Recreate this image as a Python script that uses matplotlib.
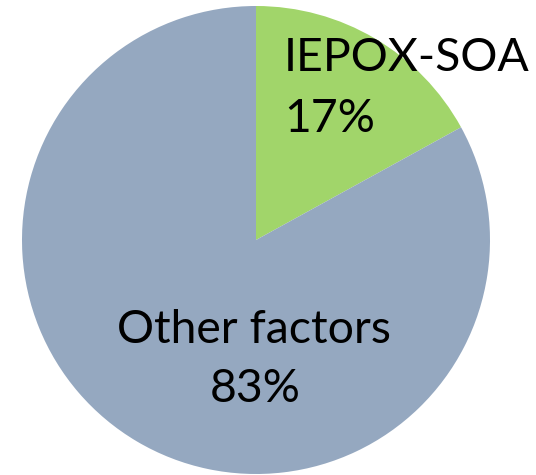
import matplotlib
matplotlib.use("Agg")
import matplotlib.pyplot as plt

labels = ["IEPOX-SOA", "Other factors"]
shares = [17, 83]
colors = ["#A1D56A", "#95A8C0"]

W, H = 536, 475
fig = plt.figure(figsize=(W / 100, H / 100), dpi=100)
ax = fig.add_axes([0, 0, 1, 1])
ax.set_xlim(0, W)
ax.set_ylim(0, H)
ax.set_aspect("equal")

ax.pie(shares, colors=colors, startangle=90, counterclock=False,
       center=(256, H - 240), radius=234, frame=True,
       wedgeprops=dict(linewidth=0))
ax.axis("off")

font = dict(family=["Lato", "DejaVu Sans"], fontsize=33.4, color="black",
            va="baseline")
# small slice: name and share left-aligned in the upper right
ax.text(284, H - 71, labels[0], ha="left", **font)
ax.text(284, H - 132, f"{shares[0]}%", ha="left", **font)
# big slice: centred in the lower half
ax.text(254, H - 343, labels[1], ha="center", **font)
ax.text(255, H - 402, f"{shares[1]}%", ha="center", **font)

fig.savefig("out.png", dpi=100)
